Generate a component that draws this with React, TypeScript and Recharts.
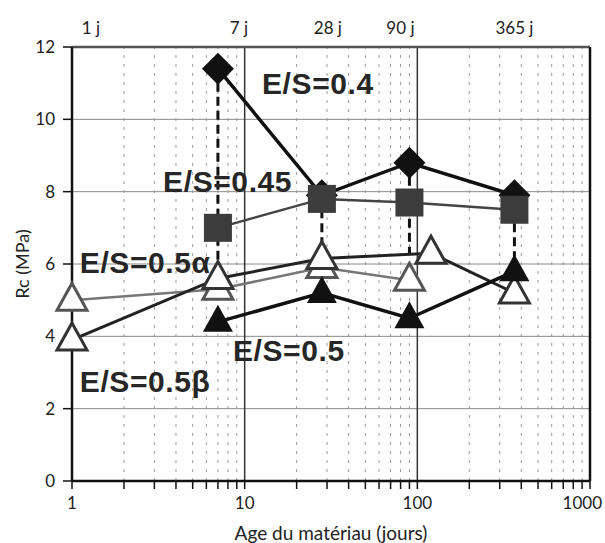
import React from 'react';
import { ComposedChart, Line, XAxis, YAxis, CartesianGrid, ReferenceLine, ReferenceDot } from 'recharts';

// jours de mesure (repères du haut)
const days = [1, 7, 28, 90, 365];

// Rc (MPa) par série
const es04X = [7, 28, 90, 365];
const es04Y = [11.4, 7.9, 8.8, 7.9];
const es045X = [7, 28, 90, 365];
const es045Y = [7.0, 7.8, 7.7, 7.5];
const es05aX = [1, 7, 28, 90];
const es05aY = [5.0, 5.3, 5.9, 5.55];
const es05bX = [1, 7, 28, 120, 365];
const es05bY = [3.9, 5.6, 6.15, 6.3, 5.2];
const es05X = [7, 28, 90, 365];
const es05Y = [4.4, 5.2, 4.5, 5.8];

// traits pointillés verticaux
const dropX = [7, 28, 90, 365];
const dropHigh = [11.4, 7.9, 8.8, 7.9];
const dropLow = [5.6, 6.2, 6.3, 5.8];

// étiquettes des courbes
const labelText = ['E/S=0.4', 'E/S=0.45', 'E/S=0.5α', 'E/S=0.5β', 'E/S=0.5'];
const labelX = [12.6, 3.37, 1.11, 1.11, 8.55];
const labelY = [10.98, 8.27, 6.03, 2.74, 3.62];

const xTicks = [1, 2, 3, 4, 5, 6, 7, 8, 9, 10, 20, 30, 40, 50, 60, 70, 80, 90, 100, 200, 300, 400, 500, 600, 700, 800, 900, 1000];
const xMajor = [1, 10, 100, 1000];
const xMinor = [2, 3, 4, 5, 6, 7, 8, 9, 20, 30, 40, 50, 60, 70, 80, 90, 200, 300, 400, 500, 600, 700, 800, 900];
const yTicks = [0, 2, 4, 6, 8, 10, 12];

const zip = (xs: number[], ys: number[]) => xs.map((x, i) => ({ x, y: ys[i] }));

const tickFont = { fontFamily: 'Lato, sans-serif', fontSize: 17, fill: '#222' };
const topShift: Record<number, number> = { 1: 19, 7: 21, 28: 6, 90: -9, 365: 0 };

const Diamond = ({ cx, cy }: any) => (
    <polygon points={`${cx},${cy - 16} ${cx + 16},${cy} ${cx},${cy + 16} ${cx - 16},${cy}`} fill="#111" />
);
const Square = ({ cx, cy }: any) => <rect x={cx - 14} y={cy - 14} width={28} height={28} fill="#3c3c3c" />;
const Triangle = ({ cx, cy, fill, stroke, open }: any) => (
    <polygon
        points={`${cx},${cy - 17} ${cx + 15},${cy + 10} ${cx - 15},${cy + 10}`}
        fill={fill}
        stroke={stroke}
        strokeWidth={open ? 3 : 0}
    />
);

const BottomTick = (props: any) => {
    const { x, y, payload } = props;
    if (!xMajor.includes(payload.value)) return <g />;
    const last = payload.value === 1000;
    return (
        <text x={last ? x + 12 : x} y={y} dy="0.71em" textAnchor={last ? 'end' : 'middle'} {...tickFont}>
            {payload.value}
        </text>
    );
};

const App: React.FC = () => {
    return (
        <div style={{ position: 'absolute', left: 0, top: 0, background: '#fff' }}>
            <ComposedChart width={605} height={543} margin={{ top: 47, right: 15, left: 0, bottom: 0 }}>
                <CartesianGrid vertical={false} stroke="#8a8a8a" strokeWidth={1} />
                {xMinor.map(v => (
                    <ReferenceLine key={'m' + v} x={v} stroke="#9a9a9a" strokeDasharray="3 6" />
                ))}
                {[10, 100].map(v => (
                    <ReferenceLine key={'M' + v} x={v} stroke="#333" strokeWidth={1.5} />
                ))}
                <ReferenceLine y={12} stroke="#555" strokeWidth={2.5} />
                <ReferenceLine x={1000} stroke="#111" strokeWidth={2.5} />
                <XAxis
                    dataKey="x"
                    type="number"
                    scale="log"
                    domain={[1, 1000]}
                    ticks={xTicks}
                    interval={0}
                    height={62}
                    tickSize={8}
                    tickMargin={8}
                    tick={<BottomTick />}
                    axisLine={{ stroke: '#111', strokeWidth: 2.5 }}
                    tickLine={{ stroke: '#111', strokeWidth: 1.5 }}
                    label={{
                        content: ({ viewBox }: any) => (
                            <text x={viewBox.x + viewBox.width / 2} y={viewBox.y + 51} textAnchor="middle" dominantBaseline="central" {...tickFont} fontSize={19}>
                                Age du matériau (jours)
                            </text>
                        ),
                    }}
                />
                <YAxis
                    type="number"
                    domain={[0, 12]}
                    ticks={yTicks}
                    width={72}
                    tickSize={9}
                    tickMargin={8}
                    tick={tickFont}
                    axisLine={{ stroke: '#111', strokeWidth: 2.5 }}
                    tickLine={{ stroke: '#111', strokeWidth: 1.5 }}
                    label={{
                        content: ({ viewBox }: any) => (
                            <text
                                transform={`translate(22, ${viewBox.y + viewBox.height / 2}) rotate(-90)`}
                                textAnchor="middle"
                                dominantBaseline="central"
                                {...tickFont}
                                fontSize={18}
                            >
                                Rc (MPa)
                            </text>
                        ),
                    }}
                />
                {days.map(d => (
                    <ReferenceDot
                        key={'day' + d}
                        x={d}
                        y={12}
                        r={0}
                        shape={(p: any) => (
                            <text x={p.cx + (topShift[d] ?? 0)} y={p.cy - 20} textAnchor="middle" dominantBaseline="central" {...tickFont}>
                                {d} j
                            </text>
                        )}
                    />
                ))}
                {labelText.map((t, i) => (
                    <ReferenceDot
                        key={t}
                        x={labelX[i]}
                        y={labelY[i]}
                        r={0}
                        shape={(p: any) => (
                            <text
                                x={p.cx}
                                y={p.cy}
                                dominantBaseline="central"
                                fontFamily="'Liberation Sans', Arial, sans-serif"
                                fontWeight="bold"
                                fontSize={30}
                                letterSpacing={0.6}
                                fill="#262626"
                            >
                                {t}
                            </text>
                        )}
                    />
                ))}
                <Line
                    data={zip(es04X, es04Y)}
                    dataKey="y"
                    stroke="#111"
                    strokeWidth={3.5}
                    isAnimationActive={false}
                    activeDot={false}
                    dot={(p: any) => <Diamond key={'d' + p.index} cx={p.cx} cy={p.cy} />}
                />
                <Line
                    data={zip(es045X, es045Y)}
                    dataKey="y"
                    stroke="#444"
                    strokeWidth={2.5}
                    isAnimationActive={false}
                    activeDot={false}
                    dot={(p: any) => <Square key={'s' + p.index} cx={p.cx} cy={p.cy} />}
                />
                {dropX.map((d, i) => (
                    <Line
                        key={'drop' + d}
                        data={[{ x: d, y: dropHigh[i] }, { x: d, y: dropLow[i] }]}
                        dataKey="y"
                        stroke="#111"
                        strokeWidth={3}
                        strokeDasharray="9 5"
                        dot={false}
                        activeDot={false}
                        isAnimationActive={false}
                    />
                ))}
                <Line
                    data={zip(es05aX, es05aY)}
                    dataKey="y"
                    stroke="#777"
                    strokeWidth={2.5}
                    isAnimationActive={false}
                    activeDot={false}
                    dot={(p: any) => <Triangle key={'a' + p.index} cx={p.cx} cy={p.cy} fill="#fff" stroke="#555" open />}
                />
                <Line
                    data={zip(es05bX, es05bY)}
                    dataKey="y"
                    stroke="#222"
                    strokeWidth={3}
                    isAnimationActive={false}
                    activeDot={false}
                    dot={(p: any) => <Triangle key={'b' + p.index} cx={p.cx} cy={p.cy} fill="#fff" stroke="#333" open />}
                />
                <Line
                    data={zip(es05X, es05Y)}
                    dataKey="y"
                    stroke="#111"
                    strokeWidth={3.5}
                    isAnimationActive={false}
                    activeDot={false}
                    dot={(p: any) => <Triangle key={'f' + p.index} cx={p.cx} cy={p.cy} fill="#111" stroke="#111" />}
                />
            </ComposedChart>
        </div>
    );
};

export default App;
